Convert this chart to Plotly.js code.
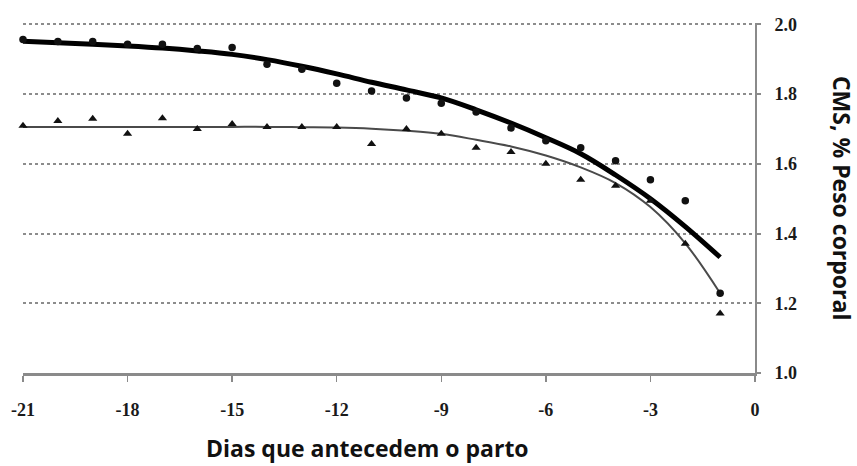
<!DOCTYPE html>
<html>
<head>
<meta charset="utf-8">
<script src="https://cdn.plot.ly/plotly-3.0.1.min.js"></script>
<style>html,body{margin:0;padding:0;background:#fff;}#chart{width:857px;height:466px;}</style>
</head>
<body>
<div id="chart"></div>
<script>
// Days before calving
const days = [-21,-20,-19,-18,-17,-16,-15,-14,-13,-12,-11,-10,-9,-8,-7,-6,-5,-4,-3,-2,-1];
// Observed values (circles)
const circleVals = [1.957,1.951,1.951,1.943,1.943,1.931,1.934,1.886,1.871,1.831,1.809,1.789,1.774,1.749,1.703,1.666,1.646,1.609,1.554,1.494,1.229];
// Observed values (triangles)
const triangleVals = [1.709,1.723,1.729,1.686,1.731,1.700,1.714,1.706,1.706,1.706,1.657,1.700,1.686,1.646,1.634,1.600,1.554,1.537,1.494,1.371,1.171];
// Fitted curve (thick)
const thickCurve = [1.952,1.947,1.943,1.938,1.932,1.924,1.914,1.899,1.880,1.858,1.834,1.812,1.789,1.755,1.717,1.675,1.629,1.568,1.500,1.420,1.332];
// Fitted curve (thin)
const thinCurve = [1.706,1.706,1.706,1.706,1.706,1.706,1.706,1.706,1.705,1.704,1.701,1.695,1.686,1.669,1.650,1.624,1.590,1.545,1.476,1.372,1.229];
// Tick labels
const xTickVals = [-21,-18,-15,-12,-9,-6,-3,0];
const xTickText = ["-21","-18","-15","-12","-9","-6","-3","0"];
const yTickVals = [1.0,1.2,1.4,1.6,1.8,2.0];
const yTickText = ["1.0","1.2","1.4","1.6","1.8","2.0"];
const xTitle = "Dias que antecedem o parto";
const yTitle = "CMS, % Peso corporal";

const traces = [
  {x: days, y: thinCurve, mode: 'lines', line: {color: '#4a4a4a', width: 2, shape: 'spline'}, hoverinfo: 'skip', cliponaxis: false},
  {x: days, y: thickCurve, mode: 'lines', line: {color: '#000', width: 5, shape: 'spline'}, hoverinfo: 'skip', cliponaxis: false},
  {x: days, y: triangleVals, mode: 'markers', marker: {symbol: 'triangle-up', size: 8, color: '#111'}, cliponaxis: false},
  {x: days, y: circleVals, mode: 'markers', marker: {symbol: 'circle', size: 7.5, color: '#111'}, cliponaxis: false}
];

const tickFont = {family: 'Liberation Serif, serif', size: 18, color: '#1a1a1a', weight: 'bold'};
const titleFont = {family: 'Open Sans, sans-serif', size: 23, color: '#111', weight: 'bold'};

const layout = {
  width: 857, height: 466,
  margin: {l: 23, r: 102, t: 23, b: 93},
  paper_bgcolor: '#fff', plot_bgcolor: '#fff',
  showlegend: false,
  xaxis: {
    range: [-21, 0], tickvals: xTickVals, ticktext: xTickText,
    showgrid: false, zeroline: false,
    showline: true, linecolor: '#8a8a8a', linewidth: 3,
    ticks: 'outside', ticklen: 6, tickwidth: 1.5, tickcolor: '#8a8a8a',
    ticklabelstandoff: 12, tickfont: tickFont
  },
  yaxis: {
    range: [1.0, 2.004], side: 'right', tickvals: yTickVals, ticktext: yTickText,
    showgrid: true, gridcolor: '#8c8c8c', gridwidth: 2, griddash: 'dot',
    zeroline: false, showline: true, linecolor: '#8a8a8a', linewidth: 2,
    ticks: 'outside', ticklen: 4, tickwidth: 2, tickcolor: '#8a8a8a',
    ticklabelstandoff: 10, tickfont: tickFont
  },
  annotations: [
    {text: xTitle, xref: 'paper', yref: 'paper', x: 0.47, y: -0.214, xanchor: 'center', yanchor: 'middle', showarrow: false, font: titleFont},
    {text: yTitle, xref: 'paper', yref: 'paper', x: 1.119, y: 0.5, xanchor: 'center', yanchor: 'middle', showarrow: false, textangle: 90, font: titleFont}
  ]
};

Plotly.newPlot('chart', traces, layout, {displayModeBar: false, staticPlot: true});
</script>
</body>
</html>
